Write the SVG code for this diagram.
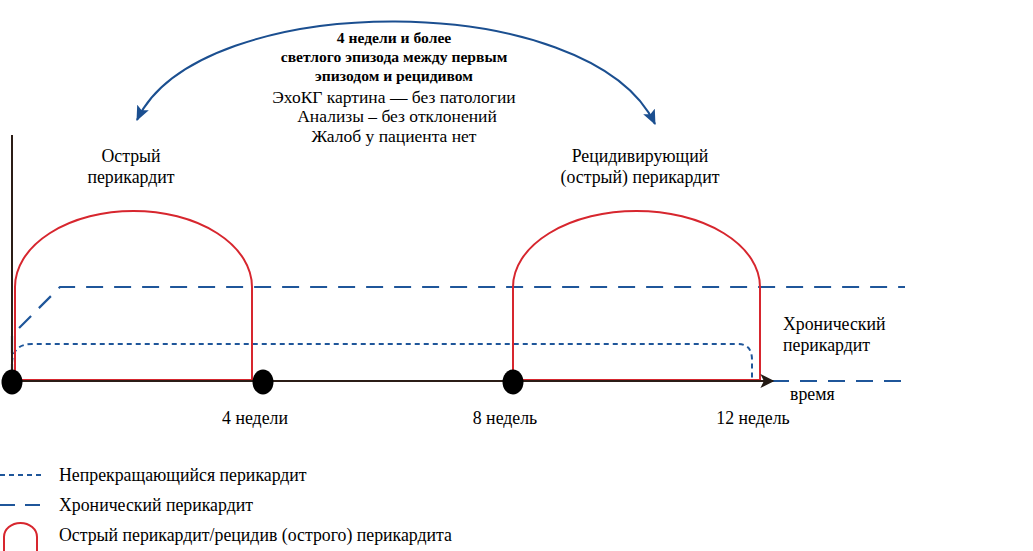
<svg xmlns="http://www.w3.org/2000/svg" width="1033" height="551" viewBox="0 0 1033 551">
<style>
text{font-family:"Liberation Serif","Times New Roman",serif;fill:#000}
.t{font-size:17.8px}
.b{font-size:15.6px;font-weight:bold}
.n{font-size:17.5px}
.red{fill:none;stroke:#d7262e;stroke-width:2}
.dash{fill:none;stroke:#1f569a;stroke-width:2.2;stroke-dasharray:17 11}
.dot{fill:none;stroke:#1f569a;stroke-width:2;stroke-dasharray:5 4}
.axis{fill:none;stroke:#2b1d16;stroke-width:2}
.arc{fill:none;stroke:#1b4f90;stroke-width:2}
</style>
<defs>
<marker id="ah" viewBox="0 0 14 12" refX="13" refY="6" markerWidth="15" markerHeight="13" markerUnits="userSpaceOnUse" orient="auto-start-reverse">
<path d="M0,0 L14,6 L0,12 L3,6 Z" fill="#1b4f90"/>
</marker>
<marker id="ax" viewBox="0 0 10 10" refX="9" refY="5" markerWidth="16" markerHeight="14" markerUnits="userSpaceOnUse" orient="auto">
<path d="M0,0 L10,5 L0,10 L2.5,5 Z" fill="#231a14"/>
</marker>
</defs>

<g id="chronic">
<path class="dash" d="M12,381 V335 L60,287 H905"/>
<path class="dash" d="M772,381 H905"/>
</g>
<g id="incessant">
<path class="dot" d="M12,381 V364 Q12,344 32,344 H738 Q752,344 752,360 V381"/>
</g>

<g id="acute1">
<path class="red" d="M15,380 V287 A118.5,76 0 0 1 133.5,211 A118.5,76 0 0 1 252,287 V380 H15"/>
</g>
<g id="acute2">
<path class="red" d="M513,380 V287 A123.5,76 0 0 1 636.5,211 A123.5,76 0 0 1 760,287 V380 H513"/>
</g>

<g id="axes">
<line class="axis" x1="12" y1="135" x2="12" y2="381"/>
<line class="axis" x1="12" y1="381" x2="773" y2="381" marker-end="url(#ax)"/>
<ellipse cx="12" cy="382" rx="10.5" ry="12.5" fill="#000"/>
<ellipse cx="263" cy="382" rx="10.5" ry="12.5" fill="#000"/>
<ellipse cx="513" cy="382" rx="10.5" ry="12.5" fill="#000"/>
</g>

<g id="connectors">
<path class="arc" d="M137,120 C200,-12 590,-12 655,124" marker-start="url(#ah)" marker-end="url(#ah)"/>
</g>

<g id="top-label">
<text class="b" x="394" y="43" text-anchor="middle">4 недели и более</text>
<text class="b" x="394" y="62" text-anchor="middle">светлого эпизода между первым</text>
<text class="b" x="394" y="81" text-anchor="middle">эпизодом и рецидивом</text>
<text class="n" x="394" y="103" text-anchor="middle">ЭхоКГ картина — без патологии</text>
<text class="n" x="397" y="122" text-anchor="middle">Анализы – без отклонений</text>
<text class="n" x="394" y="142" text-anchor="middle">Жалоб у пациента нет</text>
</g>

<g id="labels">
<text class="t" x="131" y="162" text-anchor="middle">Острый</text>
<text class="t" x="131" y="183" text-anchor="middle">перикардит</text>
<text class="t" x="640" y="162" text-anchor="middle">Рецидивирующий</text>
<text class="t" x="640" y="183" text-anchor="middle">(острый) перикардит</text>
<text class="t" x="783" y="330">Хронический</text>
<text class="t" x="783" y="351">перикардит</text>
<text class="t" x="790" y="400">время</text>
<text class="t" x="255" y="424" text-anchor="middle">4 недели</text>
<text class="t" x="505" y="424" text-anchor="middle">8 недель</text>
<text class="t" x="753" y="424" text-anchor="middle">12 недель</text>
</g>

<g id="legend">
<line class="dot" x1="0" y1="475" x2="43" y2="475"/>
<text class="t" x="59" y="481">Непрекращающийся перикардит</text>
<line class="dash" x1="0" y1="505" x2="40" y2="505" style="stroke-dasharray:15 10"/>
<text class="t" x="59" y="511">Хронический перикардит</text>
<path class="red" d="M4,552 V537 A16.5,14 0 0 1 37,537 V552"/>
<text class="t" x="59" y="541">Острый перикардит/рецидив (острого) перикардита</text>
</g>
</svg>
